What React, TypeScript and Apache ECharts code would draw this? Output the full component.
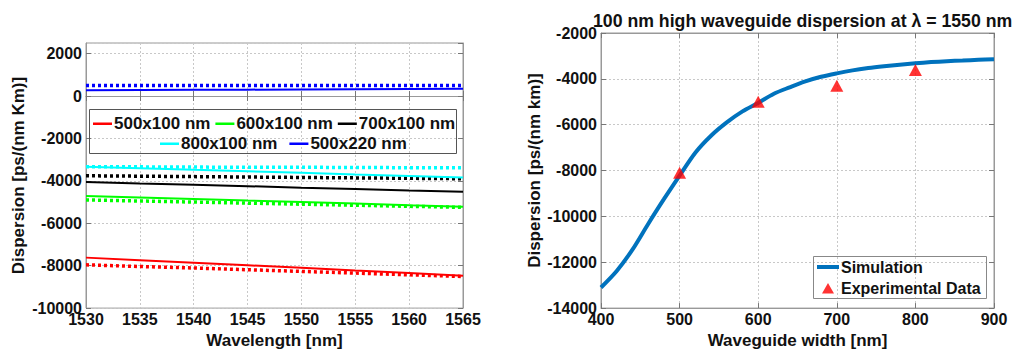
import React, { useEffect, useRef } from "react";
import * as echarts from "echarts";

const wavelengths = [1530, 1535, 1540, 1545, 1550, 1555, 1560, 1565];

// solid and dotted dispersion curves, ps/(nm km)
const d500x100 = [-7620, -7740, -7860, -7980, -8100, -8230, -8350, -8470];
const d500x100dot = [-7960, -8040, -8110, -8190, -8270, -8350, -8430, -8510];
const d600x100 = [-4710, -4780, -4850, -4930, -5000, -5070, -5150, -5220];
const d600x100dot = [-4900, -4950, -5000, -5050, -5100, -5150, -5200, -5250];
const d700x100 = [-4050, -4120, -4180, -4250, -4320, -4380, -4450, -4510];
const d700x100dot = [-3760, -3780, -3800, -3820, -3840, -3860, -3880, -3900];
const d800x100 = [-3330, -3400, -3480, -3550, -3620, -3700, -3770, -3840];
const d800x100dot = [-3330, -3340, -3350, -3360, -3360, -3370, -3380, -3380];
const d500x220 = [270, 280, 290, 300, 310, 320, 330, 340];
const d500x220dot = [500, 500, 500, 500, 500, 500, 500, 500];

const widths = [400, 420, 440, 460, 480, 500, 520, 540, 560, 580, 600, 620, 640, 660, 680, 700, 720, 740, 760, 780, 800, 820, 840, 860, 880, 900];
const simulation = [-13100, -12380, -11450, -10330, -9250, -8220, -7220, -6480, -5900, -5420, -5050, -4650, -4370, -4110, -3910, -3760, -3630, -3530, -3450, -3380, -3320, -3270, -3230, -3200, -3170, -3150];
const expWidths = [500, 600, 700, 800];
const expData = [-8100, -5000, -4300, -3610];

const FONT = 'Arial, "Liberation Sans", sans-serif';

const pair = (xs: number[], ys: number[]) => xs.map((x, i) => [x, ys[i]]);

// legend icons padded to their full box so their size is exact
const leftLineIcon = "path://M0,0 L19,0 Z M0,6 L19,6 L19,8.5 L0,8.5 Z M0,14 L19,14 Z";
const simIcon = "path://M0,0 L22,0 Z M0,5 L22,5 L22,9 L0,9 Z M0,14 L22,14 Z";
const triIcon = "path://M0,0 L22,0 Z M5,12.5 L11,2 L17,12.5 Z M0,14 L22,14 Z";

export default function App() {
  const ref = useRef<HTMLDivElement>(null);
  useEffect(() => {
    if (!ref.current) return;
    const chart = echarts.init(ref.current, undefined, { renderer: "svg" });
    const labelStyle = { color: "#111", fontFamily: FONT, fontWeight: "bold" as const, fontSize: 16, formatter: (v: number) => String(v) };
    const nameStyle = { color: "#111", fontFamily: FONT, fontWeight: "bold" as const, fontSize: 17 };
    const gridLine = { show: true, lineStyle: { color: "#c8c8c8", type: [2, 2] as any, width: 1 } };
    const axisLine = { show: true, lineStyle: { color: "#999", width: 1 } };
    const tick = { show: true, inside: true, length: 5, lineStyle: { color: "#777" } };
    const legendText = { color: "#111", fontFamily: FONT, fontWeight: "bold" as const, fontSize: 17, padding: [0, 0, 0, -3] };

    const solid = (name: string, color: string, ys: number[]) => ({
      name, type: "line", xAxisIndex: 0, yAxisIndex: 0, showSymbol: false, symbol: "none",
      data: pair(wavelengths, ys), lineStyle: { color, width: 2 }, itemStyle: { color }, z: 3,
    });
    const dotted = (name: string, color: string, ys: number[]) => ({
      name, type: "line", xAxisIndex: 0, yAxisIndex: 0, showSymbol: false, symbol: "none",
      data: pair(wavelengths, ys), lineStyle: { color, width: 3.5, type: [3, 3] as any, cap: "butt" }, itemStyle: { color }, z: 2,
    });

    chart.setOption({
      animation: false,
      backgroundColor: "#fff",
      title: {
        text: "100 nm high waveguide dispersion at λ = 1550 nm",
        left: 588, top: 7,
        textStyle: { color: "#111", fontFamily: FONT, fontWeight: "bold", fontSize: 17.7 },
      },
      grid: [
        { left: 86, right: 549, top: 43, bottom: 39, show: true, borderColor: "#999", borderWidth: 1, backgroundColor: "#fff" },
        { left: 601, right: 18, top: 33, bottom: 44, show: true, borderColor: "#999", borderWidth: 1, backgroundColor: "#fff" },
      ],
      xAxis: [
        {
          type: "value", gridIndex: 0, min: 1530, max: 1565, interval: 5,
          name: "Wavelength [nm]", nameLocation: "middle", nameGap: 21, nameTextStyle: nameStyle,
          axisLine, axisTick: tick, splitLine: gridLine, axisLabel: { ...labelStyle, margin: 3 },
        },
        {
          type: "value", gridIndex: 1, min: 400, max: 900, interval: 100,
          name: "Waveguide width [nm]", nameLocation: "middle", nameGap: 22, nameTextStyle: nameStyle,
          axisLine, axisTick: tick, splitLine: gridLine, axisLabel: { ...labelStyle, margin: 3 },
        },
        { type: "value", gridIndex: 0, position: "top", min: 1530, max: 1565, interval: 5, axisLine, axisTick: tick, axisLabel: { show: false }, splitLine: { show: false } },
        { type: "value", gridIndex: 1, position: "top", min: 400, max: 900, interval: 100, axisLine, axisTick: tick, axisLabel: { show: false }, splitLine: { show: false } },
      ],
      yAxis: [
        {
          type: "value", gridIndex: 0, min: -10000, max: 2500, interval: 2000,
          name: "Dispersion [ps/(nm Km)]", nameLocation: "middle", nameGap: 59, nameTextStyle: nameStyle,
          axisLine, axisTick: tick, splitLine: gridLine,
          axisLabel: { ...labelStyle, margin: 4, showMaxLabel: false },
        },
        {
          type: "value", gridIndex: 1, min: -14000, max: -2000, interval: 2000,
          name: "Dispersion [ps/(nm km)]", nameLocation: "middle", nameGap: 57, nameTextStyle: nameStyle,
          axisLine, axisTick: tick, splitLine: gridLine, axisLabel: { ...labelStyle, margin: 4 },
        },
        { type: "value", gridIndex: 0, position: "right", min: -10000, max: 2500, interval: 2000, axisLine, axisTick: tick, axisLabel: { show: false }, splitLine: { show: false } },
        { type: "value", gridIndex: 1, position: "right", min: -14000, max: -2000, interval: 2000, axisLine, axisTick: tick, axisLabel: { show: false }, splitLine: { show: false } },
      ],
      legend: [
        {
          data: [
            { name: "500x100 nm", icon: leftLineIcon },
            { name: "600x100 nm", icon: leftLineIcon },
            { name: "700x100 nm", icon: leftLineIcon },
          ],
          left: 93, top: 115, itemGap: 5, itemWidth: 19, itemHeight: 14, padding: 0,
          itemStyle: { borderWidth: 0 }, textStyle: legendText,
        },
        {
          data: [
            { name: "800x100 nm", icon: leftLineIcon },
            { name: "500x220 nm", icon: leftLineIcon },
          ],
          left: 160, top: 135, itemGap: 12, itemWidth: 19, itemHeight: 14, padding: 0,
          itemStyle: { borderWidth: 0 }, textStyle: legendText,
        },
        {
          data: [
            { name: "Simulation", icon: simIcon },
            { name: "Experimental Data", icon: triIcon },
          ],
          orient: "vertical", left: 817, top: 259, itemGap: 5, itemWidth: 22, itemHeight: 14, padding: 0,
          itemStyle: { borderWidth: 0 }, textStyle: { ...legendText, fontSize: 16 },
        },
      ],
      graphic: [
        { type: "rect", shape: { x: 89.5, y: 109.5, width: 367, height: 44 }, style: { fill: "none", stroke: "#555", lineWidth: 1 }, z: 10 },
        { type: "rect", shape: { x: 813.5, y: 256.5, width: 173, height: 42 }, style: { fill: "none", stroke: "#888", lineWidth: 1 }, z: 10 },
      ],
      series: [
        dotted("500x100 nm dotted", "#ff0000", d500x100dot),
        dotted("600x100 nm dotted", "#00ff00", d600x100dot),
        dotted("700x100 nm dotted", "#000000", d700x100dot),
        dotted("800x100 nm dotted", "#00ffff", d800x100dot),
        dotted("500x220 nm dotted", "#0000ff", d500x220dot),
        solid("500x100 nm", "#ff0000", d500x100),
        solid("600x100 nm", "#00ff00", d600x100),
        solid("700x100 nm", "#000000", d700x100),
        solid("800x100 nm", "#00ffff", d800x100),
        solid("500x220 nm", "#0000ff", d500x220),
        {
          name: "Simulation", type: "line", xAxisIndex: 1, yAxisIndex: 1, showSymbol: false, symbol: "none",
          smooth: 0.3, data: pair(widths, simulation),
          lineStyle: { color: "#0072BD", width: 4 }, itemStyle: { color: "#0072BD" }, z: 3,
        },
        {
          name: "Experimental Data", type: "scatter", xAxisIndex: 1, yAxisIndex: 1,
          symbol: "triangle", symbolSize: [13, 12], data: pair(expWidths, expData),
          itemStyle: { color: "#ff0000" }, z: 4,
        },
      ],
    });
    return () => chart.dispose();
  }, []);
  return <div ref={ref} style={{ position: "fixed", left: 0, top: 0, width: 1012, height: 354 }} />;
}
